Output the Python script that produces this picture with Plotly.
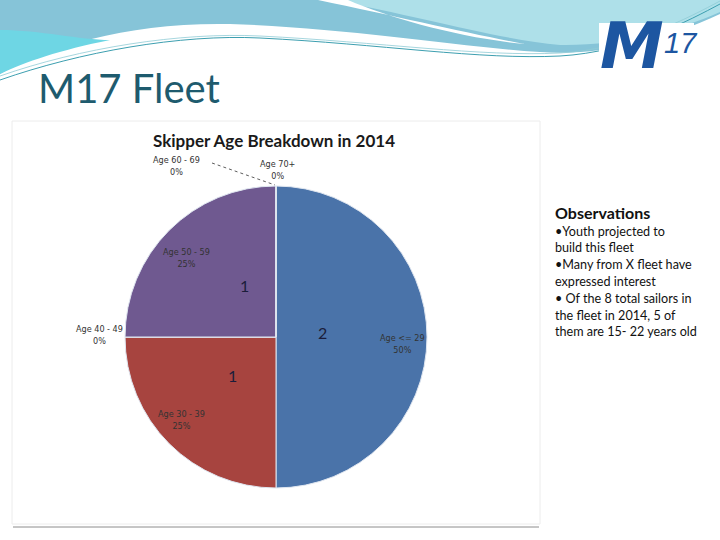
import plotly.graph_objects as go

# ---- data ----
age_groups = ["Age <= 29", "Age 30 - 39", "Age 40 - 49", "Age 50 - 59", "Age 60 - 69", "Age 70+"]
sailors = [2, 1, 0, 1, 0, 0]
slice_colors = ["#4a73a9", "#a7443f", "#8fae55", "#6f5990", "#4aa3be", "#e88c45"]

chart_title = "Skipper Age Breakdown in 2014"
slide_title = "M17 Fleet"
obs_head = "Observations"
obs_lines = [
    "•Youth projected to",
    "build this fleet",
    "•Many from X fleet have",
    "expressed interest",
    "• Of the 8 total sailors in",
    "the fleet in 2014, 5 of",
    "them are 15- 22 years old",
]

total = sum(sailors)
pcts = [f"{round(100 * v / total)}%" for v in sailors]

W, H = 720, 540
def px(x):
    return x / W
def py(y):
    return 1 - y / H

fig = go.Figure()
fig.add_trace(go.Pie(
    labels=age_groups, values=sailors, sort=False, direction="clockwise", rotation=0,
    marker=dict(colors=slice_colors, line=dict(color="#dfe6f0", width=1)),
    textinfo="none",
    domain=dict(x=[px(125), px(427)], y=[py(488), py(186)]),
    showlegend=False, hoverinfo="label+value+percent",
))

shapes = []
# header waves
shapes.append(dict(type="path", xref="paper", yref="paper", layer="below",
    path=f"M {px(0)},{py(0)} L {px(720)},{py(0)} L {px(720)},{py(14)} "
         f"C {px(660)},{py(42)} {px(600)},{py(56)} {px(540)},{py(52)} "
         f"C {px(450)},{py(46)} {px(350)},{py(28)} {px(230)},{py(24)} "
         f"C {px(130)},{py(22)} {px(50)},{py(46)} {px(0)},{py(74)} Z",
    fillcolor="#86c4d8", line=dict(width=0)))
shapes.append(dict(type="path", xref="paper", yref="paper", layer="below",
    path=f"M {px(0)},{py(30)} C {px(40)},{py(30)} {px(80)},{py(40)} {px(110)},{py(40)} "
         f"C {px(60)},{py(50)} {px(25)},{py(62)} {px(0)},{py(74)} Z",
    fillcolor="#6ed6e4", line=dict(width=0)))
shapes.append(dict(type="path", xref="paper", yref="paper", layer="below",
    path=f"M {px(330)},{py(0)} L {px(720)},{py(0)} L {px(720)},{py(12)} "
         f"C {px(680)},{py(30)} {px(620)},{py(46)} {px(560)},{py(45)} "
         f"C {px(500)},{py(40)} {px(420)},{py(16)} {px(330)},{py(0)} Z",
    fillcolor="#aee0e9", line=dict(width=0)))
shapes.append(dict(type="path", xref="paper", yref="paper", layer="below",
    path=f"M {px(318)},{py(0)} C {px(400)},{py(17)} {px(470)},{py(34)} {px(525)},{py(44)} "
         f"C {px(460)},{py(38)} {px(390)},{py(18)} {px(348)},{py(0)} Z",
    fillcolor="white", line=dict(width=0)))
shapes.append(dict(type="path", xref="paper", yref="paper", layer="below",
    path=f"M {px(0)},{py(80)} C {px(80)},{py(52)} {px(180)},{py(34)} {px(260)},{py(38)} "
         f"C {px(380)},{py(44)} {px(480)},{py(60)} {px(560)},{py(56)} "
         f"C {px(630)},{py(52)} {px(690)},{py(20)} {px(720)},{py(4)}",
    line=dict(color="#3d9fb0", width=1)))
shapes.append(dict(type="path", xref="paper", yref="paper", layer="below",
    path=f"M {px(0)},{py(76)} C {px(80)},{py(48)} {px(180)},{py(32)} {px(260)},{py(36)} "
         f"C {px(380)},{py(42)} {px(480)},{py(57)} {px(560)},{py(53)} "
         f"C {px(630)},{py(49)} {px(690)},{py(17)} {px(720)},{py(1)}",
    line=dict(color="#8fcbd6", width=0.8)))
# logo box
shapes.append(dict(type="rect", xref="paper", yref="paper", layer="below",
    x0=px(599), x1=px(694), y0=py(68), y1=py(23), fillcolor="white", line=dict(width=0)))
# chart panel
shapes.append(dict(type="rect", xref="paper", yref="paper", layer="below",
    x0=px(12), x1=px(540), y0=py(524), y1=py(121), fillcolor="white",
    line=dict(color="#ececec", width=1)))
shapes.append(dict(type="line", xref="paper", yref="paper",
    x0=px(13), x1=px(539), y0=py(527), y1=py(527), line=dict(color="#8c8c8c", width=1)))
# leader line for Age 60-69
shapes.append(dict(type="line", xref="paper", yref="paper",
    x0=px(212), x1=px(275), y0=py(163), y1=py(185), line=dict(color="#333333", width=0.8, dash="dot")))

annotations = []
annotations.append(dict(text=slide_title, x=px(36), y=py(88), xref="paper", yref="paper",
    xanchor="left", yanchor="middle", showarrow=False,
    font=dict(family="Lato, sans-serif", size=40, color="#1e5b6e")))
annotations.append(dict(text="<b><i>M</i></b>", x=px(598), y=py(46), xref="paper", yref="paper",
    xanchor="left", yanchor="middle", showarrow=False,
    font=dict(family="DejaVu Sans, sans-serif", size=64, color="#1d56a1")))
annotations.append(dict(text="<i>17</i>", x=px(662), y=py(43), xref="paper", yref="paper",
    xanchor="left", yanchor="middle", showarrow=False,
    font=dict(family="Liberation Sans, Arial", size=29, color="#1d56a1")))
annotations.append(dict(text=f"<b>{chart_title}</b>", x=px(274), y=py(140), xref="paper", yref="paper",
    xanchor="center", yanchor="middle", showarrow=False,
    font=dict(family="Lato, sans-serif", size=17, color="#1a1a1a")))
annotations.append(dict(text=f"<b>{obs_head}</b>", x=px(553), y=py(212), xref="paper", yref="paper",
    xanchor="left", yanchor="middle", showarrow=False,
    font=dict(family="Lato, sans-serif", size=16, color="#111111")))
for i, line in enumerate(obs_lines):
    annotations.append(dict(text=line, x=px(553), y=py(231 + i * 16.8), xref="paper", yref="paper",
        xanchor="left", yanchor="middle", showarrow=False,
        font=dict(family="Lato, sans-serif", size=12.6, color="#111111")))

# value labels inside slices (positions in pixels, matched by index)
value_pos = [(322, 332), (232, 375), None, (244, 285), None, None]
for v, pos in zip(sailors, value_pos):
    if pos is None or v == 0:
        continue
    annotations.append(dict(text=str(v), x=px(pos[0]), y=py(pos[1]), xref="paper", yref="paper",
        xanchor="center", yanchor="middle", showarrow=False,
        font=dict(family="Lato, sans-serif", size=16, color="#1b1d3a")))

# outside category labels (positions in pixels, matched by index to age_groups)
label_pos = [(402, 344), (181, 420), (99, 335), (186, 258), (176, 166), (277, 170)]
for name, pct, (lx, ly) in zip(age_groups, pcts, label_pos):
    annotations.append(dict(text=f"{name}<br>{pct}", x=px(lx), y=py(ly), xref="paper", yref="paper",
        xanchor="center", yanchor="middle", showarrow=False, align="center",
        font=dict(family="DejaVu Sans Condensed, sans-serif", size=9, color="#333333")))

fig.update_layout(
    width=W, height=H, margin=dict(l=0, r=0, t=0, b=0),
    paper_bgcolor="white", plot_bgcolor="white",
    shapes=shapes, annotations=annotations,
)
fig.write_html("out.html", config={"displayModeBar": False},
               post_script="document.body.style.margin='0';")
